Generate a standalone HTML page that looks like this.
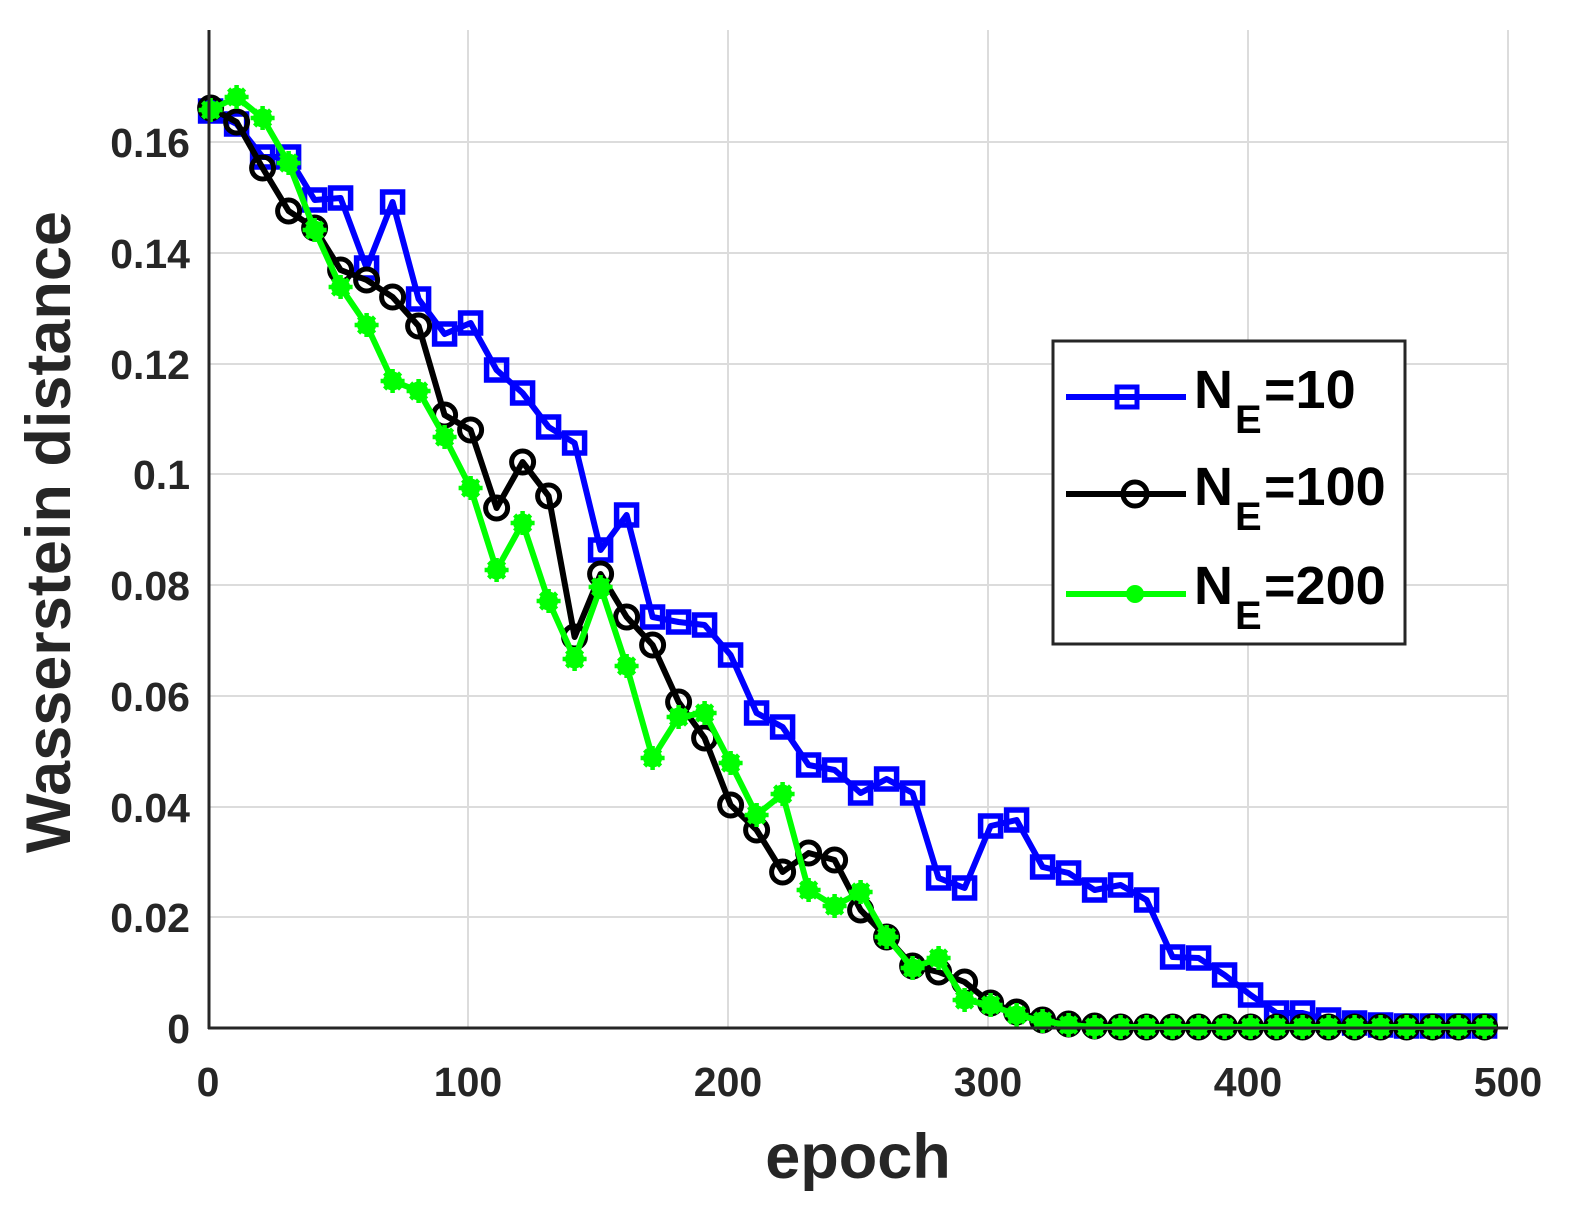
<!DOCTYPE html><html><head><style>body{margin:0;background:#fff}svg{display:block}text{font-family:"Liberation Sans",Arial,sans-serif;font-weight:bold;fill:#262626}</style></head><body>
<svg id="s" width="1581" height="1223" xmlns="http://www.w3.org/2000/svg">
<g stroke="#dcdcdc" stroke-width="2">
<line x1="468" y1="30" x2="468" y2="1028"/><line x1="728" y1="30" x2="728" y2="1028"/><line x1="988" y1="30" x2="988" y2="1028"/><line x1="1248" y1="30" x2="1248" y2="1028"/><line x1="1508" y1="30" x2="1508" y2="1028"/>
<line x1="208" y1="917" x2="1508" y2="917"/><line x1="208" y1="807" x2="1508" y2="807"/><line x1="208" y1="696" x2="1508" y2="696"/><line x1="208" y1="585" x2="1508" y2="585"/><line x1="208" y1="474" x2="1508" y2="474"/><line x1="208" y1="364" x2="1508" y2="364"/><line x1="208" y1="253" x2="1508" y2="253"/><line x1="208" y1="142" x2="1508" y2="142"/>
</g>
<g id="data"></g>
<g stroke="#262626" stroke-width="3">
<line x1="209" y1="30" x2="209" y2="1029"/><line x1="208" y1="1028" x2="1508" y2="1028"/>
</g>
<g font-size="41" text-anchor="end">
<text x="190" y="1043">0</text><text x="190" y="932">0.02</text><text x="190" y="822">0.04</text><text x="190" y="711">0.06</text><text x="190" y="600">0.08</text><text x="190" y="489">0.1</text><text x="190" y="379">0.12</text><text x="190" y="268">0.14</text><text x="190" y="157">0.16</text>
</g>
<g font-size="41" text-anchor="middle">
<text x="208" y="1096">0</text><text x="468" y="1096">100</text><text x="728" y="1096">200</text><text x="988" y="1096">300</text><text x="1248" y="1096">400</text><text x="1508" y="1096">500</text>
</g>
<text x="858" y="1178" font-size="63" text-anchor="middle">epoch</text>
<text transform="translate(70,532) rotate(-90)" font-size="63" text-anchor="middle">Wasserstein distance</text>
<g id="leg">
<rect x="1053" y="341" width="352" height="303" fill="#fff" stroke="#262626" stroke-width="3"/>
<line x1="1066" y1="397" x2="1186" y2="397" stroke="#0000ff" stroke-width="6"/>
<rect x="1117" y="387" width="20" height="20" fill="none" stroke="#0000ff" stroke-width="5"/>
<line x1="1066" y1="494" x2="1186" y2="494" stroke="#000" stroke-width="6"/>
<circle cx="1135" cy="494" r="12" fill="none" stroke="#000" stroke-width="5"/>
<line x1="1066" y1="594" x2="1186" y2="594" stroke="#00ff00" stroke-width="6"/>
<circle cx="1135" cy="594" r="9" fill="#00ff00"/>
<g font-size="54"><text x="1194" y="408" style="fill:#000">N</text><text x="1235" y="433" font-size="40" style="fill:#000">E</text><text x="1264" y="408" style="fill:#000">=10</text>
<text x="1194" y="505" style="fill:#000">N</text><text x="1235" y="530" font-size="40" style="fill:#000">E</text><text x="1264" y="505" style="fill:#000">=100</text>
<text x="1194" y="604" style="fill:#000">N</text><text x="1235" y="629" font-size="40" style="fill:#000">E</text><text x="1264" y="604" style="fill:#000">=200</text></g>
</g>
</svg>
<script>
var B=[111,124,157,157,200,198,268,202,299,334,323,370,393,427,443,550,515,617,622,625,655,713,727,765,770,793,779,793,878,888,826,820,867,873,890,885,900,957,958,975,995,1013,1013,1020,1023,1025,1026,1026,1026,1026];
var K=[108,122,168,211,228,270,280,297,326,415,430,508,462,496,637,574,617,645,702,738,805,830,872,853,860,910,937,966,972,982,1003,1012,1020,1024,1026,1027,1027,1027,1027,1027,1027,1027,1027,1027,1027,1027,1027,1027,1027,1027];
var G=[110,97,118,163,230,287,325,381,391,437,488,570,523,601,659,587,666,758,717,713,763,815,794,890,906,892,937,968,958,1000,1005,1015,1021,1025,1027,1027,1027,1027,1027,1027,1027,1027,1027,1027,1027,1027,1027,1027,1027,1027];
var h='';
function X(i){return 210.6+26*i}
function line(a,c){return '<polyline fill="none" stroke="'+c+'" stroke-width="6" stroke-linejoin="round" points="'+a.map(function(y,i){return X(i)+','+y}).join(' ')+'"/>'}
h+=line(B,'#0000ff');
B.forEach(function(y,i){h+='<rect x="'+(X(i)-10)+'" y="'+(y-10)+'" width="20" height="20" fill="none" stroke="#0000ff" stroke-width="5.5"/>'});
h+=line(K,'#000');
K.forEach(function(y,i){h+='<circle cx="'+X(i)+'" cy="'+y+'" r="11" fill="none" stroke="#000" stroke-width="5"/>'});
h+=line(G,'#00ff00');
G.forEach(function(y,i){var x=X(i);h+='<circle cx="'+x+'" cy="'+y+'" r="9.5" fill="#00ff00"/><g stroke="#00ff00" stroke-width="4.5"><line x1="'+(x-12)+'" y1="'+y+'" x2="'+(x+12)+'" y2="'+y+'"/><line x1="'+x+'" y1="'+(y-12)+'" x2="'+x+'" y2="'+(y+12)+'"/><line x1="'+(x-8)+'" y1="'+(y-8)+'" x2="'+(x+8)+'" y2="'+(y+8)+'"/><line x1="'+(x-8)+'" y1="'+(y+8)+'" x2="'+(x+8)+'" y2="'+(y-8)+'"/></g>'});
document.getElementById('data').innerHTML=h;
</script>
</body></html>
